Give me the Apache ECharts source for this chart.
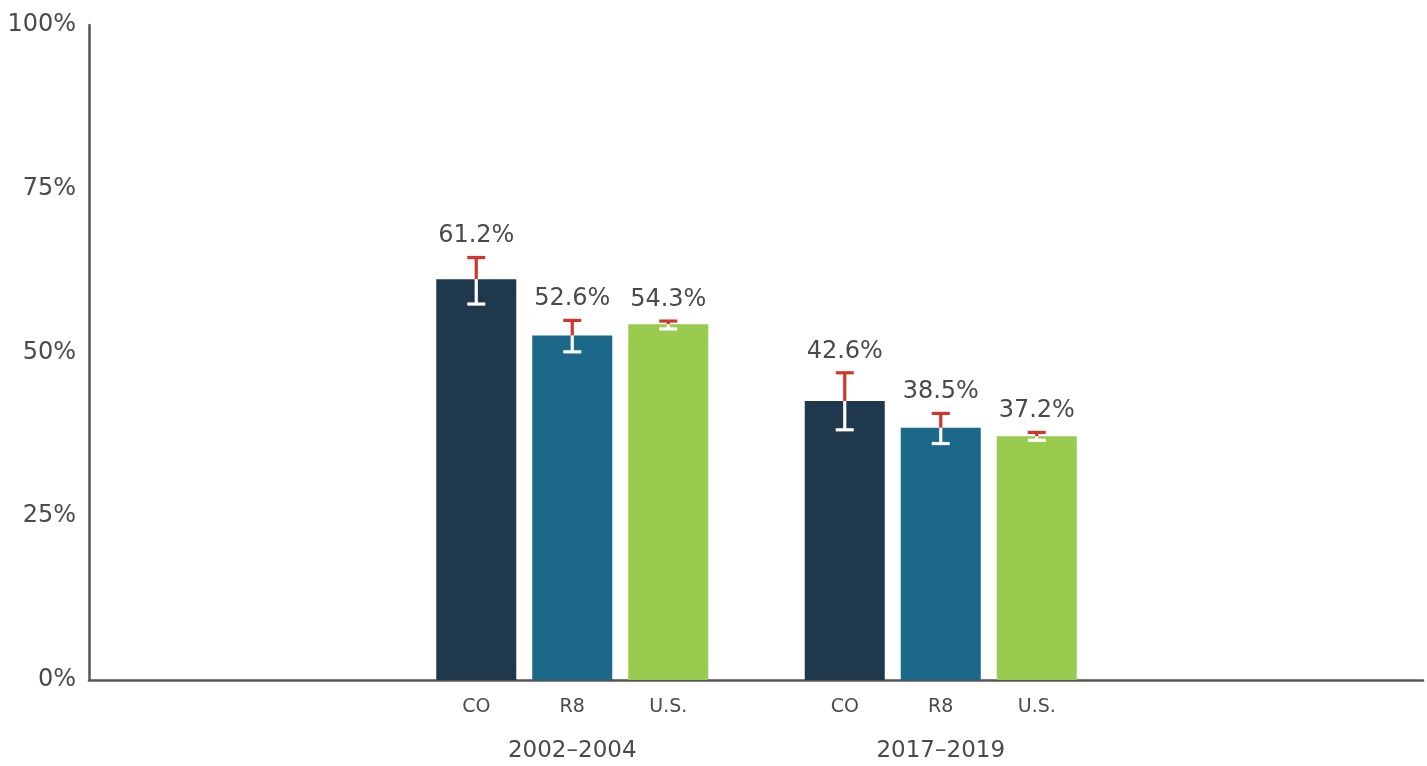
<!DOCTYPE html>
<html>
<head>
<meta charset="utf-8">
<script src="https://cdn.jsdelivr.net/npm/echarts@6/dist/echarts.min.js"></script>
<style>
html,body{margin:0;padding:0;background:#fff;}
#chart{width:1427px;height:766px;}
</style>
</head>
<body>
<div id="chart"></div>
<script>
const groups = ['2002–2004', '2017–2019'];
const seriesNames = ['CO', 'R8', 'U.S.'];
const coValues = [61.2, 42.6];
const coLow = [57.4, 38.2];
const coHigh = [64.5, 46.9];
const r8Values = [52.6, 38.5];
const r8Low = [50.1, 36.1];
const r8High = [54.9, 40.7];
const usValues = [54.3, 37.2];
const usLow = [53.6, 36.6];
const usHigh = [54.8, 37.8];

const FONT = 'DejaVu Sans, Verdana, sans-serif';
const TEXT = '#4a4a4a';
const colors = ['#1f384b', '#1b6888', '#98cb4e'];
const RED = '#d3352c';
const BAR_W = 80, BAR_GAP = 16;

const valueSets = [coValues, r8Values, usValues];
const lowSets = [coLow, r8Low, usLow];
const highSets = [coHigh, r8High, usHigh];

const chart = echarts.init(document.getElementById('chart'));

function makeErr(idx) {
  const offset = (idx - 1) * (BAR_W + BAR_GAP);
  return {
    type: 'custom',
    xAxisIndex: 1, yAxisIndex: 1,
    z: 10,
    clip: false,
    data: groups.map((g, i) => [i, valueSets[idx][i], lowSets[idx][i], highSets[idx][i]]),
    renderItem: function (params, api) {
      const ci = api.value(0);
      const x = api.coord([ci, 0])[0] + offset;
      const y0 = api.coord([ci, 0])[1];
      const yv = api.coord([ci, api.value(1)])[1];
      const yl = api.coord([ci, api.value(2)])[1];
      const yh = api.coord([ci, api.value(3)])[1];
      const cap = 9;
      const lw = 3.2;
      return {
        type: 'group',
        children: [
          { type: 'line', shape: { x1: x, y1: yv, x2: x, y2: yh }, style: { stroke: RED, lineWidth: lw } },
          { type: 'line', shape: { x1: x - cap, y1: yh, x2: x + cap, y2: yh }, style: { stroke: RED, lineWidth: lw } },
          { type: 'line', shape: { x1: x, y1: yv, x2: x, y2: yl }, style: { stroke: '#ffffff', lineWidth: lw } },
          { type: 'line', shape: { x1: x - cap, y1: yl, x2: x + cap, y2: yl }, style: { stroke: '#ffffff', lineWidth: lw } },
          { type: 'text', style: { text: api.value(1).toFixed(1) + '%', x: x, y: yh - 21.5,
              align: 'center', verticalAlign: 'middle', textAlign: 'center', textVerticalAlign: 'middle',
              fontSize: 24, fontFamily: FONT, fill: TEXT } },
          { type: 'text', style: { text: seriesNames[idx], x: x, y: y0 + 27,
              align: 'center', verticalAlign: 'middle', textAlign: 'center', textVerticalAlign: 'middle',
              fontSize: 19, fontFamily: FONT, fill: TEXT } }
        ]
      };
    }
  };
}

const barSeries = seriesNames.map((n, idx) => ({
  name: n,
  type: 'bar',
  xAxisIndex: 1, yAxisIndex: 1,
  barWidth: BAR_W,
  barGap: (BAR_GAP / BAR_W * 100) + '%',
  itemStyle: { color: colors[idx] },
  data: valueSets[idx]
}));

chart.setOption({
  animation: false,
  backgroundColor: '#ffffff',
  grid: [
    { left: 89, right: 4, top: 25, bottom: 86 },
    { left: 388, right: 302, top: 25, bottom: 86 }
  ],
  xAxis: [
    { type: 'category', gridIndex: 0, data: [''],
      axisLine: { show: true, lineStyle: { color: '#555555', width: 2.5 } },
      axisTick: { show: false }, axisLabel: { show: false } },
    { type: 'category', gridIndex: 1, data: groups,
      axisLine: { show: false }, axisTick: { show: false },
      axisLabel: { margin: 60, fontSize: 23, fontFamily: FONT, color: TEXT } }
  ],
  yAxis: [
    { type: 'value', gridIndex: 0, min: 0, max: 100, interval: 25,
      axisLine: { show: true, lineStyle: { color: '#555555', width: 2.5 } },
      axisTick: { show: false }, splitLine: { show: false },
      axisLabel: { formatter: '{value}%', fontSize: 24, fontFamily: FONT, color: TEXT, margin: 13 } },
    { type: 'value', gridIndex: 1, min: 0, max: 100, interval: 25, show: false,
      splitLine: { show: false } }
  ],
  series: barSeries.concat([makeErr(0), makeErr(1), makeErr(2)])
});
</script>
</body>
</html>
